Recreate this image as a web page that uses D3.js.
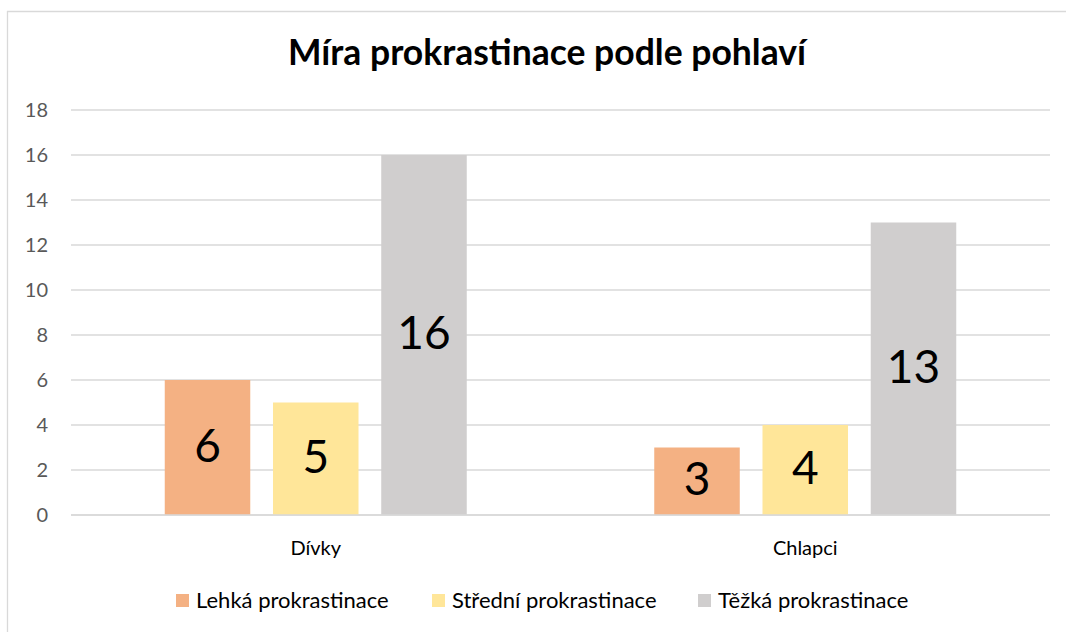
<!DOCTYPE html>
<html>
<head>
<meta charset="utf-8">
<script src="https://cdn.jsdelivr.net/npm/d3@7"></script>
<style>
  body { margin: 0; background: #fff; }
  svg { font-family: Lato, "Noto Sans", sans-serif; }
</style>
</head>
<body>
<svg id="chart"></svg>
<script>
const categories = ['Dívky', 'Chlapci']
const seriesNames = ['Lehká prokrastinace', 'Střední prokrastinace', 'Těžká prokrastinace']
const lehka = [6, 3]
const stredni = [5, 4]
const tezka = [16, 13]
const yTicks = [0, 2, 4, 6, 8, 10, 12, 14, 16, 18]
const colors = ['#F4B183', '#FFE699', '#D0CECE']

const width = 1066
const height = 632

const svg = d3.select('svg#chart')
  .attr('width', width)
  .attr('height', height)

// chart frame (top + left edges visible)
svg.append('line').attr('x1', 7).attr('x2', width).attr('y1', 11.5).attr('y2', 11.5)
  .attr('stroke', '#D9D9D9').attr('stroke-width', 1.3)
svg.append('line').attr('x1', 7.5).attr('x2', 7.5).attr('y1', 11).attr('y2', height)
  .attr('stroke', '#D9D9D9').attr('stroke-width', 1.3)

svg.append('text')
  .attr('x', 547)
  .attr('y', 65)
  .attr('text-anchor', 'middle')
  .attr('font-size', 35.5)
  .attr('font-weight', 'bold')
  .attr('fill', '#000')
  .text('Míra prokrastinace podle pohlaví')

const plotL = 71, plotR = 1050, plotT = 110, plotB = 515

const x0 = d3.scaleBand().domain(categories).range([plotL, plotR])
const x1 = d3.scaleBand().domain(seriesNames).range([0, 302]).paddingInner(0.21)
const y = d3.scaleLinear().domain([0, 18]).range([plotB, plotT])

const grid = svg.append('g')
grid.selectAll('line').data(yTicks).enter().append('line')
  .attr('x1', plotL).attr('x2', plotR)
  .attr('y1', d => y(d)).attr('y2', d => y(d))
  .attr('stroke', '#D9D9D9').attr('stroke-width', 1.3)

svg.append('g').selectAll('text').data(yTicks).enter().append('text')
  .attr('x', 48)
  .attr('y', d => y(d) + 7)
  .attr('text-anchor', 'end')
  .attr('font-size', 20)
  .attr('fill', '#595959')
  .text(d => d)

const rows = categories.map((c, i) => ({
  cat: c,
  vals: [lehka[i], stredni[i], tezka[i]]
}))

const groups = svg.append('g').selectAll('g').data(rows).enter().append('g')
  .attr('transform', d => 'translate(' + (x0(d.cat) + x0.bandwidth() / 2 - 151) + ',0)')

groups.selectAll('rect').data(d => d.vals.map((v, k) => ({ name: seriesNames[k], v, k })))
  .enter().append('rect')
  .attr('x', d => x1(d.name))
  .attr('y', d => y(d.v))
  .attr('width', x1.bandwidth())
  .attr('height', d => y(0) - y(d.v))
  .attr('fill', d => colors[d.k])

groups.selectAll('text').data(d => d.vals.map((v, k) => ({ name: seriesNames[k], v, k })))
  .enter().append('text')
  .attr('x', d => x1(d.name) + x1.bandwidth() / 2)
  .attr('y', d => (y(d.v) + y(0)) / 2 + 14)
  .attr('text-anchor', 'middle')
  .attr('font-size', 46)
  .attr('fill', '#000')
  .text(d => d.v)

// redraw baseline above bars
svg.append('line').attr('x1', plotL).attr('x2', plotR)
  .attr('y1', y(0)).attr('y2', y(0))
  .attr('stroke', '#D9D9D9').attr('stroke-width', 1.3)

svg.append('g').selectAll('text').data(categories).enter().append('text')
  .attr('x', d => x0(d) + x0.bandwidth() / 2)
  .attr('y', 555)
  .attr('text-anchor', 'middle')
  .attr('font-size', 20)
  .attr('fill', '#000')
  .text(d => d)

const legendX = [176, 432, 698]
const legend = svg.append('g').selectAll('g').data(seriesNames).enter().append('g')
  .attr('transform', (d, i) => 'translate(' + legendX[i] + ',594)')
legend.append('rect').attr('width', 13).attr('height', 13)
  .attr('fill', (d, i) => colors[i])
legend.append('text')
  .attr('x', 20)
  .attr('y', 14)
  .attr('font-size', 22)
  .attr('fill', '#000')
  .text(d => d)
</script>
</body>
</html>
